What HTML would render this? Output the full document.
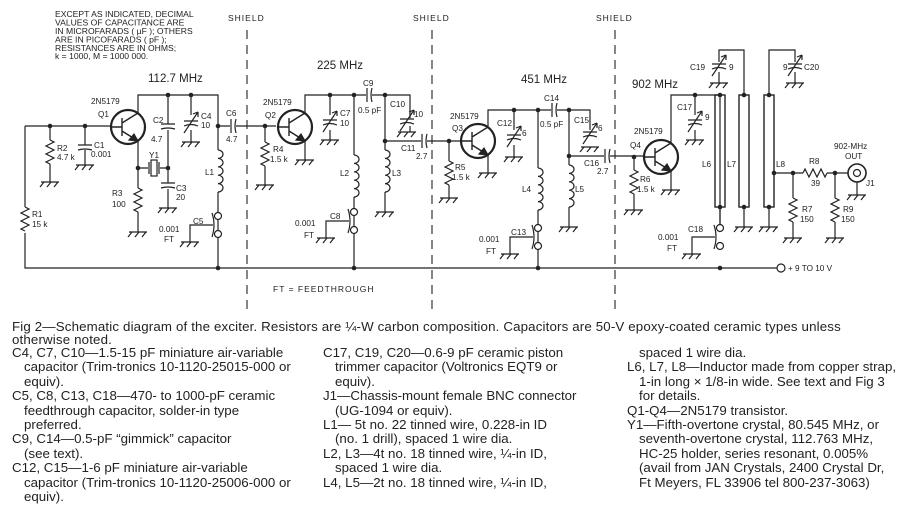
<!DOCTYPE html>
<html><head><meta charset="utf-8"><style>
html,body{margin:0;padding:0;background:#fff;}
body{width:900px;height:511px;position:relative;overflow:hidden;font-family:"Liberation Sans",sans-serif;color:#222;}
svg{position:absolute;left:0;top:0;}
.t{position:absolute;font-size:13.3px;white-space:nowrap;line-height:14.4px;}
.i{padding-left:12px;}
</style></head><body>
<svg width="900" height="511" viewBox="0 0 900 511" font-family="Liberation Sans, sans-serif" fill="none" stroke="#222" stroke-width="1.2">
<defs>
<g id="g"><path d="M-9,0H9M-6,0l-4,5M1,0l-4,5M8,0l-4,5"/></g>
<path id="r" d="M0,0l4,2l-8,4l8,4l-8,4l8,4l-8,4l4,2"/>
<path id="rh" d="M0,0l2,-4l4,8l4,-8l4,8l4,-8l4,8l2,-4"/>
<g id="q"><circle r="17" stroke-width="2.2"/><path d="M-17,0H-6M-6,-9V9M-6,-4L10,-14M-6,4L10,14" stroke-width="1.4"/><path d="M10,14l-9,-1l5,-6z" fill="#222"/></g>
<g id="cv"><path d="M-7,-2H7M-7,3q7,-3 14,0"/><path d="M-7,10L7,-11"/><path d="M7,-11l-5,2m5,-2l0,5"/></g>
<g id="cf"><path d="M-7,-2H7M-7,3q7,-2 14,0"/></g>
<g id="ch"><path d="M-2,-7V7M3,-7q-2,7 0,14"/></g>
<path id="l" d="M0,0a5,4.2 0 0 1 0,8.4a5,4.2 0 0 1 0,8.4a5,4.2 0 0 1 0,8.4a5,4.2 0 0 1 0,8.4a5,4.2 0 0 1 0,8.4"/>
<g id="ft"><circle cx="0" cy="0" r="3.5" fill="#fff"/><circle cx="0" cy="18" r="3.5" fill="#fff"/><path d="M-6,-3q4,12 0,24M-5,9H-28V26"/></g>
</defs>
<g stroke-dasharray="9,6" stroke-width="1.1"><path d="M247,30V310M432,30V310M615,30V310"/></g>
<path d="M25,126V207M25,233V268H777"/>
<use href="#r" x="25" y="207"/>
<circle cx="781" cy="268" r="4" fill="#fff"/>
<path d="M25,126H111M50,126V140M50,164V182M85,126V145M85,150V165"/>
<use href="#r" x="50" y="140"/><use href="#g" x="50" y="182"/>
<use href="#cf" x="85" y="147"/><use href="#g" x="85" y="165"/>
<use href="#q" x="128" y="127"/>
<path d="M138,113V95H218V150M138,141V188M138,212V232M168,95V124M168,130V183M168,189V208M191,95V115M191,130V142M138,168H148M160,168H168M218,192V268"/>
<rect x="151" y="160" width="6" height="16"/><path d="M149,162V174M159,162V174"/>
<use href="#cf" x="168" y="126"/><use href="#cf" x="168" y="185"/><use href="#g" x="168" y="208"/>
<use href="#cv" x="191" y="123"/><use href="#g" x="191" y="142"/>
<use href="#r" x="138" y="188"/><use href="#g" x="138" y="232"/>
<path d="M218,126H230M236,126H276"/><use href="#ch" x="233" y="126"/>
<use href="#l" x="218" y="150"/>
<use href="#ft" x="218" y="216"/><use href="#g" x="190" y="242"/>
<path d="M265,126V142M265,166V185M305,113V95H366M372,95H410V113M305,141V160M330,95V115M330,130V140M354,95V155M354,197V268M385,95V150M385,192V212M385,141H421M427,141H461"/>
<use href="#r" x="265" y="142"/><use href="#g" x="265" y="185"/>
<use href="#q" x="295" y="127"/><use href="#g" x="305" y="160"/>
<use href="#cv" x="330" y="122"/><use href="#g" x="330" y="140"/>
<use href="#ch" x="369" y="95"/><use href="#ch" x="424" y="141"/>
<path d="M410,113V118M410,126V132"/><use href="#cv" x="407" y="121"/><use href="#g" x="407" y="132"/>
<use href="#l" x="354" y="155"/><use href="#l" x="385" y="150"/><use href="#g" x="385" y="212"/>
<use href="#ft" x="354" y="212"/><use href="#g" x="326" y="238"/>
<path d="M449,141V161M449,185V198M488,127V110H551M557,110H590V130M488,155V173M514,110V130M514,145V157M538,110V168M538,210V268M569,110V165M569,207V227M569,156H604M610,156H645"/>
<use href="#r" x="449" y="161"/><use href="#g" x="449" y="198"/>
<use href="#q" x="478" y="141"/><use href="#g" x="488" y="173"/>
<use href="#cv" x="514" y="137"/><use href="#g" x="514" y="157"/>
<use href="#ch" x="554" y="110"/><use href="#cv" x="590" y="134"/><use href="#g" x="590" y="147"/>
<use href="#ch" x="607" y="156"/>
<use href="#l" x="538" y="168"/><use href="#l" x="569" y="165"/><use href="#g" x="569" y="227"/>
<use href="#ft" x="538" y="228"/><use href="#g" x="510" y="254"/>
<path d="M634,157V170M634,194V210M671,143V95H720V228M671,171V190M695,95V115M695,130V140"/>
<use href="#r" x="634" y="170"/><use href="#g" x="634" y="210"/>
<use href="#q" x="661" y="157"/><use href="#g" x="671" y="190"/>
<use href="#cv" x="695" y="122"/><use href="#g" x="695" y="140"/>
<rect x="715" y="95" width="10" height="112" stroke-width="1.4"/>
<rect x="739" y="95" width="10" height="112" stroke-width="1.4"/>
<rect x="764" y="95" width="10" height="112" stroke-width="1.4"/>
<path d="M744,95V50H719V62M719,72V83M769,95V50H795V62M795,72V83M744,207V227M769,207V227M720,207V228"/>
<use href="#cv" x="719" y="66"/><use href="#g" x="719" y="83"/>
<use href="#cv" x="795" y="66"/><use href="#g" x="795" y="83"/>
<use href="#g" x="744" y="227"/><use href="#g" x="769" y="227"/>
<use href="#ft" x="720" y="228"/><use href="#g" x="692" y="254"/>
<path d="M774,173H803M827,173H848M793,173V198M793,222V238M835,173V198M835,222V238M857,182V195"/>
<use href="#rh" x="803" y="173"/>
<use href="#r" x="793" y="198"/><use href="#g" x="793" y="238"/>
<use href="#r" x="835" y="198"/><use href="#g" x="835" y="238"/>
<circle cx="857" cy="173" r="9" stroke-width="1.6"/><circle cx="857" cy="173" r="3.5"/>
<use href="#g" x="857" y="195"/>
<g fill="#222" stroke="none">
<circle cx="50" cy="126" r="2.3"/><circle cx="85" cy="126" r="2.3"/><circle cx="168" cy="95" r="2.3"/><circle cx="191" cy="95" r="2.3"/><circle cx="218" cy="126" r="2.3"/><circle cx="138" cy="168" r="2.3"/><circle cx="168" cy="168" r="2.3"/><circle cx="218" cy="268" r="2.3"/>
<circle cx="265" cy="126" r="2.3"/><circle cx="330" cy="95" r="2.3"/><circle cx="354" cy="95" r="2.3"/><circle cx="385" cy="95" r="2.3"/><circle cx="385" cy="141" r="2.3"/><circle cx="354" cy="268" r="2.3"/>
<circle cx="449" cy="141" r="2.3"/><circle cx="514" cy="110" r="2.3"/><circle cx="538" cy="110" r="2.3"/><circle cx="569" cy="110" r="2.3"/><circle cx="569" cy="156" r="2.3"/><circle cx="538" cy="268" r="2.3"/>
<circle cx="634" cy="157" r="2.3"/><circle cx="695" cy="95" r="2.3"/><circle cx="720" cy="95" r="2.3"/><circle cx="744" cy="95" r="2.3"/><circle cx="769" cy="95" r="2.3"/><circle cx="720" cy="207" r="2.3"/><circle cx="744" cy="207" r="2.3"/><circle cx="769" cy="207" r="2.3"/><circle cx="720" cy="268" r="2.3"/><circle cx="774" cy="173" r="2.3"/><circle cx="793" cy="173" r="2.3"/><circle cx="835" cy="173" r="2.3"/>
</g>
<g fill="#222" stroke="none" font-size="8.6">
<text x="55" y="17">EXCEPT AS INDICATED, DECIMAL</text>
<text x="55" y="25.5">VALUES OF CAPACITANCE ARE</text>
<text x="55" y="34">IN MICROFARADS ( µF ); OTHERS</text>
<text x="55" y="42.5">ARE IN PICOFARADS ( pF );</text>
<text x="55" y="51">RESISTANCES ARE IN OHMS;</text>
<text x="55" y="59">k = 1000, M = 1000 000.</text>
</g>
<g fill="#222" stroke="none" font-size="8.5" letter-spacing="1">
<text x="228" y="21">SHIELD</text><text x="413" y="21">SHIELD</text><text x="596" y="21">SHIELD</text>
<text x="273" y="292">FT = FEEDTHROUGH</text>
</g>
<g fill="#222" stroke="none" font-size="11.5">
<text x="148" y="82">112.7 MHz</text><text x="317" y="69">225 MHz</text><text x="521" y="83">451 MHz</text><text x="632" y="88">902 MHz</text>
</g>
<g fill="#222" stroke="none" font-size="8.2">
<text x="91" y="104">2N5179</text><text x="98" y="117">Q1</text>
<text x="57" y="151">R2</text><text x="57" y="160">4.7 k</text>
<text x="94" y="148">C1</text><text x="91" y="157">0.001</text>
<text x="153" y="123">C2</text><text x="151" y="142">4.7</text>
<text x="201" y="119">C4</text><text x="201" y="128">10</text>
<text x="226" y="116">C6</text><text x="226" y="142">4.7</text>
<text x="149" y="158">Y1</text>
<text x="176" y="191">C3</text><text x="176" y="200">20</text>
<text x="112" y="196">R3</text><text x="112" y="207">100</text>
<text x="32" y="217">R1</text><text x="32" y="227">15 k</text>
<text x="205" y="175">L1</text>
<text x="193" y="224">C5</text><text x="159" y="232">0.001</text><text x="164" y="242">FT</text>
<text x="263" y="105">2N5179</text><text x="265" y="118">Q2</text>
<text x="273" y="152">R4</text><text x="270" y="162">1.5 k</text>
<text x="340" y="116">C7</text><text x="340" y="126">10</text>
<text x="363" y="86">C9</text><text x="358" y="113">0.5 pF</text>
<text x="390" y="107">C10</text><text x="414" y="117">10</text>
<text x="401" y="151">C11</text><text x="416" y="159">2.7</text>
<text x="340" y="176">L2</text><text x="392" y="176">L3</text>
<text x="330" y="219">C8</text><text x="295" y="226">0.001</text><text x="304" y="238">FT</text>
<text x="450" y="119">2N5179</text><text x="452" y="131">Q3</text>
<text x="455" y="170">R5</text><text x="452" y="180">1.5 k</text>
<text x="497" y="126">C12</text><text x="522" y="136">6</text>
<text x="544" y="101">C14</text><text x="540" y="127">0.5 pF</text>
<text x="574" y="123">C15</text><text x="598" y="131">6</text>
<text x="584" y="166">C16</text><text x="597" y="174">2.7</text>
<text x="522" y="192">L4</text><text x="575" y="192">L5</text>
<text x="511" y="235">C13</text><text x="479" y="242">0.001</text><text x="486" y="254">FT</text>
<text x="634" y="134">2N5179</text><text x="630" y="148">Q4</text>
<text x="640" y="182">R6</text><text x="637" y="192">1.5 k</text>
<text x="677" y="110">C17</text><text x="705" y="120">9</text>
<text x="690" y="70">C19</text><text x="729" y="70">9</text>
<text x="783" y="70">9</text><text x="804" y="70">C20</text>
<text x="702" y="167">L6</text><text x="727" y="167">L7</text><text x="776" y="167">L8</text>
<text x="809" y="164">R8</text><text x="811" y="186">39</text>
<text x="802" y="212">R7</text><text x="800" y="222">150</text>
<text x="843" y="212">R9</text><text x="841" y="222">150</text>
<text x="834" y="149">902-MHz</text><text x="845" y="159">OUT</text><text x="866" y="186">J1</text>
<text x="688" y="232">C18</text><text x="658" y="240">0.001</text><text x="667" y="251">FT</text>
<text x="788" y="271">+ 9  TO 10 V</text>
</g>
</svg>
<div class="t" style="left:12px;top:321px;line-height:12.5px;letter-spacing:0.15px;">Fig 2—Schematic diagram of the exciter. Resistors are ¼-W carbon composition. Capacitors are 50-V epoxy-coated ceramic types unless<br>otherwise noted.</div>
<div class="t" style="left:12px;top:346px;">C4, C7, C10—1.5-15 pF miniature air-variable<br><span class="i">capacitor (Trim-tronics 10-1120-25015-000 or</span><br><span class="i">equiv).</span><br>C5, C8, C13, C18—470- to 1000-pF ceramic<br><span class="i">feedthrough capacitor, solder-in type</span><br><span class="i">preferred.</span><br>C9, C14—0.5-pF “gimmick” capacitor<br><span class="i">(see text).</span><br>C12, C15—1-6 pF miniature air-variable<br><span class="i">capacitor (Trim-tronics 10-1120-25006-000 or</span><br><span class="i">equiv).</span></div>
<div class="t" style="left:323px;top:346px;">C17, C19, C20—0.6-9 pF ceramic piston<br><span class="i">trimmer capacitor (Voltronics EQT9 or</span><br><span class="i">equiv).</span><br>J1—Chassis-mount female BNC connector<br><span class="i">(UG-1094 or equiv).</span><br>L1— 5t no. 22 tinned wire, 0.228-in ID<br><span class="i">(no. 1 drill), spaced 1 wire dia.</span><br>L2, L3—4t no. 18 tinned wire, ¼-in ID,<br><span class="i">spaced 1 wire dia.</span><br>L4, L5—2t no. 18 tinned wire, ¼-in ID,</div>
<div class="t" style="left:627px;top:346px;"><span class="i">spaced 1 wire dia.</span><br>L6, L7, L8—Inductor made from copper strap,<br><span class="i">1-in long × 1/8-in wide. See text and Fig 3</span><br><span class="i">for details.</span><br>Q1-Q4—2N5179 transistor.<br>Y1—Fifth-overtone crystal, 80.545 MHz, or<br><span class="i">seventh-overtone crystal, 112.763 MHz,</span><br><span class="i">HC-25 holder, series resonant, 0.005%</span><br><span class="i">(avail from JAN Crystals, 2400 Crystal Dr,</span><br><span class="i">Ft Meyers, FL 33906 tel 800-237-3063)</span></div>
</body></html>
